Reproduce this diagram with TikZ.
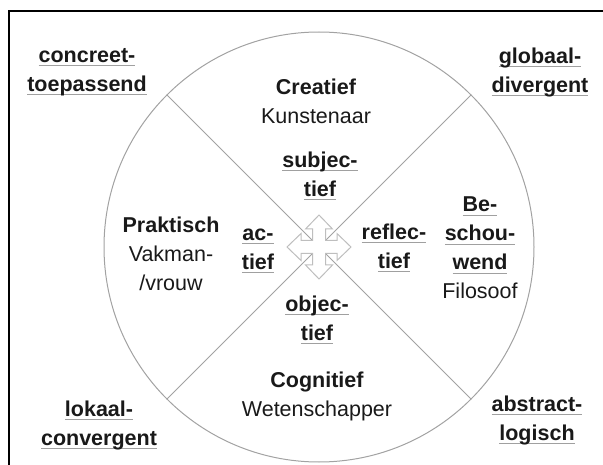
\documentclass[tikz,border=0pt]{standalone}
\usepackage{fontspec}
\setmainfont{Liberation Sans}
\definecolor{wheelgray}{HTML}{A2A2A2}
\definecolor{crossgray}{HTML}{BEBEBE}
\definecolor{ulgray}{HTML}{A0A0A0}
\newsavebox\ulbox
% underlined bold word, grey rule below the baseline
\newcommand\ulb[1]{\sbox\ulbox{\textbf{#1}}\rlap{\textcolor{ulgray}{\rule[-4pt]{\wd\ulbox}{1pt}}}\usebox\ulbox}
\tikzset{
  wheel line/.style={draw=wheelgray, line width=1pt},
  arrow cross/.style={draw=crossgray, fill=white, line width=1pt},
  wheel text/.style={font=\fontsize{21.5}{29}\selectfont, align=center, inner sep=0pt, text=black!90}
}
\begin{document}
\begin{tikzpicture}[x=1pt,y=-1pt]
  \useasboundingbox (0,0) rectangle (603,465);
  {
  % Drawing frame
  \draw [line width=1.5pt] (9,465) -- (9,11) -- (603,11);%

  % Drawing circle
  \node [wheel line, circle, minimum size=430pt, inner sep=0pt, outer sep=0pt] (wheel) at (319,247) {};%

  % Marking inner corners of the cross
  \coordinate (cross nw) at (312.5,240.5);%
  \coordinate (cross ne) at (325.5,240.5);%
  \coordinate (cross sw) at (312.5,253.5);%
  \coordinate (cross se) at (325.5,253.5);%

  % Drawing diagonals
  \draw [wheel line] (wheel.north west) -- (cross nw);%
  \draw [wheel line] (wheel.north east) -- (cross ne);%
  \draw [wheel line] (wheel.south west) -- (cross sw);%
  \draw [wheel line] (wheel.south east) -- (cross se);%

  % Drawing four-way arrow
  \draw [arrow cross, shift={(319,247)}] (-6.5,-6.5) -- (-6.5,-18) -- (-13.5,-18) -- (0,-32) -- (13.5,-18) -- (6.5,-18) -- (6.5,-6.5)
     -- (18,-6.5) -- (18,-13.5) -- (32,0) -- (18,13.5) -- (18,6.5) -- (6.5,6.5)
     -- (6.5,18) -- (13.5,18) -- (0,32) -- (-13.5,18) -- (-6.5,18) -- (-6.5,6.5)
     -- (-18,6.5) -- (-18,13.5) -- (-32,0) -- (-18,-13.5) -- (-18,-6.5) -- cycle;%

  % Marking quadrants
  \node [wheel text] (creatief) at (316,101) {\textbf{Creatief}\\Kunstenaar};%
  \node [wheel text] (praktisch) at (171,254) {\textbf{Praktisch}\\Vakman-\\/vrouw};%
  \node [wheel text] (beschouwend) at (480,248) {\ulb{Be-}\\\ulb{schou-}\\\ulb{wend}\\Filosoof};%
  \node [wheel text] (cognitief) at (317,396) {\textbf{Cognitief}\\Wetenschapper};%

  % Marking inner labels
  \node [wheel text] (subjectief) at (320,176) {\ulb{subjec-}\\\ulb{tief}};%
  \node [wheel text] (actief) at (258,251) {\ulb{ac-}\\\ulb{tief}};%
  \node [wheel text] (reflectief) at (394,248) {\ulb{reflec-}\\\ulb{tief}};%
  \node [wheel text] (objectief) at (317,320) {\ulb{objec-}\\\ulb{tief}};%

  % Marking corners
  \node [wheel text] (concreet) at (87,72) {\ulb{concreet-}\\\ulb{toepassend}};%
  \node [wheel text] (globaal) at (540,72) {\ulb{globaal-}\\\ulb{divergent}};%
  \node [wheel text] (lokaal) at (99,425) {\ulb{lokaal-}\\\ulb{convergent}};%
  \node [wheel text] (abstract) at (537,420) {\ulb{abstract-}\\\ulb{logisch}};%
  }
\end{tikzpicture}
\end{document}
